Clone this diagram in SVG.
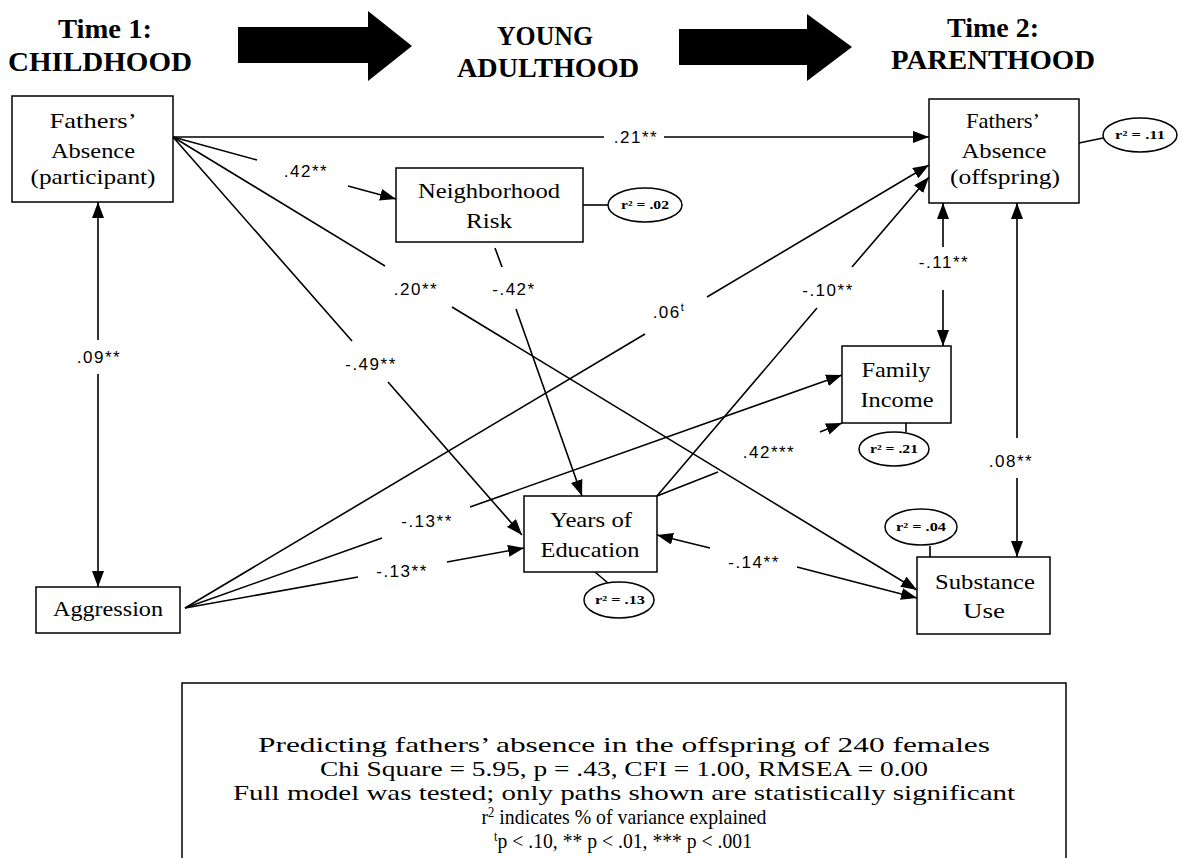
<svg xmlns="http://www.w3.org/2000/svg" width="1186" height="858" viewBox="0 0 1186 858">
<style>
.hd{font-family:"Liberation Serif","Times New Roman",serif;font-weight:bold;font-size:28px;fill:#000;text-anchor:middle}
.box{fill:#fff;stroke:#000;stroke-width:1.5}
.nt{font-family:"Liberation Serif","Times New Roman",serif;font-size:21px;fill:#000;text-anchor:middle}
.el{fill:#fff;stroke:#000;stroke-width:1.5}
.et{font-family:"Liberation Serif","Times New Roman",serif;font-weight:bold;font-size:13px;fill:#000;text-anchor:middle}
.cn{fill:none;stroke:#000;stroke-width:1.6}
.lb{font-family:"Liberation Sans",Arial,sans-serif;font-size:17px;letter-spacing:1.5px;fill:#000;text-anchor:middle}
.ft{font-family:"Liberation Serif","Times New Roman",serif;font-size:22px;fill:#000;text-anchor:middle}
</style>
<defs>
<marker id="ah" viewBox="0 0 16 12" refX="16" refY="6" markerWidth="16" markerHeight="12" markerUnits="userSpaceOnUse" orient="auto-start-reverse">
<path d="M0,0 L16,6 L0,12 z" fill="#000"/>
</marker>
</defs>
<rect width="1186" height="858" fill="#fff"/>

<g id="headers">
<text class="hd" x="105" y="38" textLength="94" lengthAdjust="spacingAndGlyphs">Time 1:</text>
<text class="hd" x="100" y="71" textLength="184" lengthAdjust="spacingAndGlyphs">CHILDHOOD</text>
<polygon points="238,27 368,27 368,11 412,46 368,81 368,63 238,63" fill="#000"/>
<text class="hd" x="545" y="45" textLength="96" lengthAdjust="spacingAndGlyphs">YOUNG</text>
<text class="hd" x="548" y="77" textLength="182" lengthAdjust="spacingAndGlyphs">ADULTHOOD</text>
<polygon points="679,29 807,29 807,14 852,47 807,81 807,65 679,65" fill="#000"/>
<text class="hd" x="993" y="37" textLength="92" lengthAdjust="spacingAndGlyphs">Time 2:</text>
<text class="hd" x="993" y="69" textLength="204" lengthAdjust="spacingAndGlyphs">PARENTHOOD</text>
</g>

<g id="connectors">
<path class="cn" d="M173,137 L604,137 M664,137 L929,137" marker-end="url(#ah)"/>
<path class="cn" d="M173,137 L257,160 M348,186 L396,199" marker-end="url(#ah)"/>
<path class="cn" d="M173,137 L385,266 M452,307 L917,590" marker-end="url(#ah)"/>
<path class="cn" d="M173,137 L352,341 M388,382 L522,535" marker-end="url(#ah)"/>
<path class="cn" d="M495,248 L502,267 M516,309 L582,496" marker-end="url(#ah)"/>
<path class="cn" d="M185,608 L645,334 M707,297 L929,165" marker-end="url(#ah)"/>
<path class="cn" d="M657,496 L817,308 M852,267 L929,177" marker-end="url(#ah)"/>
<path class="cn" d="M185,608 L382,538 M470,507 L842,375" marker-end="url(#ah)"/>
<path class="cn" d="M185,608 L358,577 M447,562 L524,548" marker-end="url(#ah)"/>
<path class="cn" d="M657,496 L718,472 M820,432 L842,423" marker-end="url(#ah)"/>
<path class="cn" d="M98,202 L98,340 M98,374 L98,587" marker-start="url(#ah)" marker-end="url(#ah)"/>
<path class="cn" d="M943,203 L943,247 M943,290 L943,346" marker-start="url(#ah)" marker-end="url(#ah)"/>
<path class="cn" d="M1017,203 L1017,438 M1017,478 L1017,557" marker-start="url(#ah)" marker-end="url(#ah)"/>
<path class="cn" d="M657,535 L710,548 M797,567 L917,598" marker-start="url(#ah)" marker-end="url(#ah)"/>
<path class="cn" d="M583,205 L608,205"/>
<path class="cn" d="M1079,143 L1103,138"/>
<path class="cn" d="M906,423 L906,432"/>
<path class="cn" d="M595,572 L608,583"/>
<path class="cn" d="M930,546 L930,557"/>
</g>

<g id="labels">
<text class="lb" x="636" y="143">.21**</text>
<text class="lb" x="306" y="177">.42**</text>
<text class="lb" x="416" y="295">.20**</text>
<text class="lb" x="514" y="295">-.42*</text>
<text class="lb" x="669" y="318">.06<tspan dy="-7" font-size="11">t</tspan></text>
<text class="lb" x="828" y="296">-.10**</text>
<text class="lb" x="944" y="268">-.11**</text>
<text class="lb" x="99" y="363">.09**</text>
<text class="lb" x="371" y="370">-.49**</text>
<text class="lb" x="427" y="527">-.13**</text>
<text class="lb" x="402" y="577">-.13**</text>
<text class="lb" x="769" y="458">.42***</text>
<text class="lb" x="754" y="568">-.14**</text>
<text class="lb" x="1011" y="467">.08**</text>
</g>

<g id="n-fa-participant">
<rect class="box" x="12" y="96" width="161" height="106"/>
<text class="nt" x="93" y="128" textLength="87" lengthAdjust="spacingAndGlyphs">Fathers’</text>
<text class="nt" x="93" y="158" textLength="84" lengthAdjust="spacingAndGlyphs">Absence</text>
<text class="nt" x="93" y="184" textLength="125" lengthAdjust="spacingAndGlyphs">(participant)</text>
</g>

<g id="n-aggression">
<rect class="box" x="36" y="587" width="144" height="46"/>
<text class="nt" x="108" y="616" textLength="110" lengthAdjust="spacingAndGlyphs">Aggression</text>
</g>

<g id="n-neighborhood">
<rect class="box" x="396" y="168" width="187" height="74"/>
<text class="nt" x="489" y="198" textLength="142" lengthAdjust="spacingAndGlyphs">Neighborhood</text>
<text class="nt" x="489" y="228" textLength="46" lengthAdjust="spacingAndGlyphs">Risk</text>
<ellipse class="el" cx="645" cy="205" rx="37" ry="17"/>
<text class="et" x="645" y="209" textLength="48" lengthAdjust="spacingAndGlyphs">r² = .02</text>
</g>

<g id="n-fa-offspring">
<rect class="box" x="929" y="99" width="150" height="104"/>
<text class="nt" x="1003" y="128" textLength="74" lengthAdjust="spacingAndGlyphs">Fathers’</text>
<text class="nt" x="1004" y="158" textLength="85" lengthAdjust="spacingAndGlyphs">Absence</text>
<text class="nt" x="1005" y="184" textLength="110" lengthAdjust="spacingAndGlyphs">(offspring)</text>
<ellipse class="el" cx="1140" cy="135" rx="37" ry="17"/>
<text class="et" x="1140" y="139" textLength="50" lengthAdjust="spacingAndGlyphs">r² = .11</text>
</g>

<g id="n-family-income">
<rect class="box" x="842" y="346" width="109" height="77"/>
<text class="nt" x="896" y="377" textLength="69" lengthAdjust="spacingAndGlyphs">Family</text>
<text class="nt" x="897" y="407" textLength="73" lengthAdjust="spacingAndGlyphs">Income</text>
<ellipse class="el" cx="894" cy="449" rx="35" ry="17"/>
<text class="et" x="894" y="453" textLength="48" lengthAdjust="spacingAndGlyphs">r² = .21</text>
</g>

<g id="n-education">
<rect class="box" x="524" y="496" width="133" height="76"/>
<text class="nt" x="591" y="527" textLength="82" lengthAdjust="spacingAndGlyphs">Years of</text>
<text class="nt" x="590" y="557" textLength="99" lengthAdjust="spacingAndGlyphs">Education</text>
<ellipse class="el" cx="619" cy="600" rx="35" ry="18"/>
<text class="et" x="620" y="604" textLength="50" lengthAdjust="spacingAndGlyphs">r² = .13</text>
</g>

<g id="n-substance">
<rect class="box" x="917" y="557" width="133" height="77"/>
<text class="nt" x="985" y="589" textLength="100" lengthAdjust="spacingAndGlyphs">Substance</text>
<text class="nt" x="984" y="618" textLength="42" lengthAdjust="spacingAndGlyphs">Use</text>
<ellipse class="el" cx="921" cy="527" rx="36" ry="18"/>
<text class="et" x="921" y="531" textLength="50" lengthAdjust="spacingAndGlyphs">r² = .04</text>
</g>

<g id="notes">
<rect x="182" y="683" width="884" height="190" fill="#fff" stroke="#000" stroke-width="1.5"/>
<text class="ft" x="624" y="752" textLength="732" lengthAdjust="spacingAndGlyphs">Predicting fathers’ absence in the offspring of 240 females</text>
<text class="ft" x="624" y="776" textLength="608" lengthAdjust="spacingAndGlyphs">Chi Square = 5.95, p = .43, CFI = 1.00, RMSEA = 0.00</text>
<text class="ft" x="624" y="800" textLength="782" lengthAdjust="spacingAndGlyphs">Full model was tested; only paths shown are statistically significant</text>
<text class="ft" x="624" y="824" textLength="285" lengthAdjust="spacingAndGlyphs">r<tspan dy="-7" font-size="14">2</tspan><tspan dy="7"> indicates % of variance explained</tspan></text>
<text class="ft" x="623" y="848" textLength="258" lengthAdjust="spacingAndGlyphs"><tspan dy="-7" font-size="14">t</tspan><tspan dy="7">p &lt; .10, ** p &lt; .01, *** p &lt; .001</tspan></text>
</g>
</svg>
